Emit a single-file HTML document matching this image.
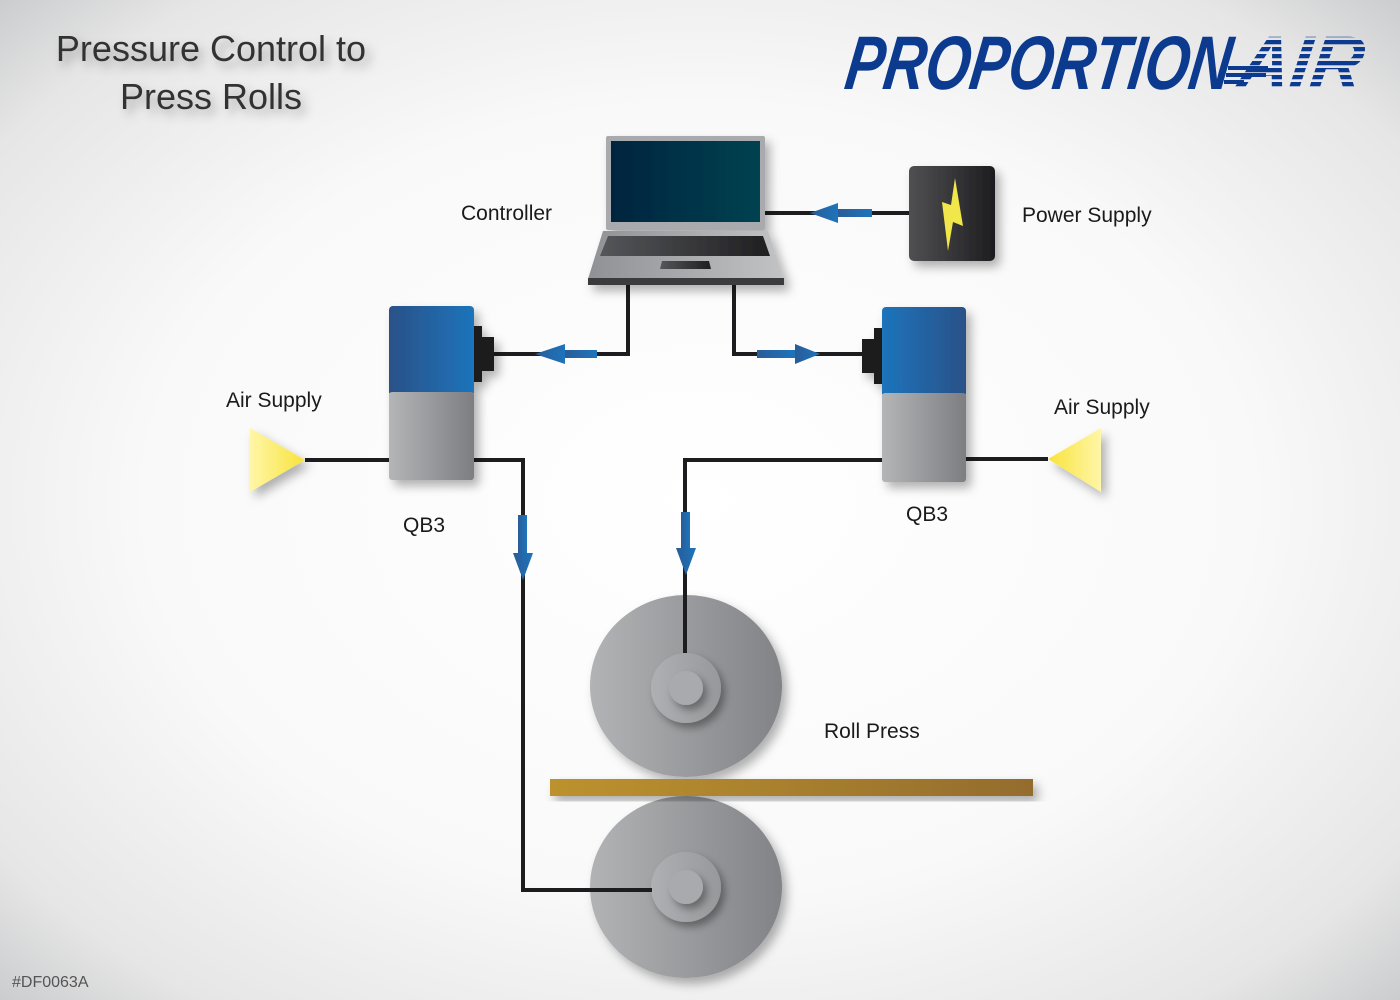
<!DOCTYPE html>
<html><head><meta charset="utf-8"><style>
html,body{margin:0;padding:0;width:1400px;height:1000px;overflow:hidden}
svg{display:block}
text{font-family:"Liberation Sans",sans-serif}
</style></head><body>
<svg width="1400" height="1000" viewBox="0 0 1400 1000" xmlns="http://www.w3.org/2000/svg">
<defs>
<radialGradient id="bg" cx="0.5" cy="0.5" r="0.72">
<stop offset="0" stop-color="#ffffff"/><stop offset="0.55" stop-color="#f9f9f9"/><stop offset="0.85" stop-color="#e6e6e6"/><stop offset="1" stop-color="#c8c9cb"/></radialGradient>
<linearGradient id="scr" x1="0" x2="1"><stop offset="0" stop-color="#01243f"/><stop offset="1" stop-color="#044250"/></linearGradient>
<linearGradient id="base" x1="0" x2="1"><stop offset="0" stop-color="#8f9194"/><stop offset="1" stop-color="#c2c3c5"/></linearGradient>
<linearGradient id="kb" x1="0" x2="1"><stop offset="0" stop-color="#55565a"/><stop offset="1" stop-color="#1f1f21"/></linearGradient>
<linearGradient id="ps" x1="0" x2="1"><stop offset="0" stop-color="#505053"/><stop offset="1" stop-color="#1d1d1f"/></linearGradient>
<linearGradient id="blueL" x1="0" x2="1"><stop offset="0" stop-color="#2a5188"/><stop offset="1" stop-color="#1d74bb"/></linearGradient>
<linearGradient id="blueR" x1="0" x2="1"><stop offset="0" stop-color="#1d74bb"/><stop offset="1" stop-color="#2a5188"/></linearGradient>
<linearGradient id="gray" x1="0" x2="1"><stop offset="0" stop-color="#b4b5b7"/><stop offset="1" stop-color="#7c7e82"/></linearGradient>
<linearGradient id="roll" x1="0" x2="1"><stop offset="0" stop-color="#b2b3b5"/><stop offset="1" stop-color="#828387"/></linearGradient>
<linearGradient id="hub" x1="0" x2="1"><stop offset="0" stop-color="#afb0b3"/><stop offset="1" stop-color="#97989b"/></linearGradient>
<linearGradient id="plank" x1="0" x2="1"><stop offset="0" stop-color="#bc922e"/><stop offset="1" stop-color="#946c2d"/></linearGradient>
<linearGradient id="yelR" x1="0" x2="1"><stop offset="0" stop-color="#fff6a8"/><stop offset="1" stop-color="#f8e33a"/></linearGradient>
<linearGradient id="yelL" x1="0" x2="1"><stop offset="0" stop-color="#f8e33a"/><stop offset="1" stop-color="#fff6a8"/></linearGradient>
<linearGradient id="arr" x1="0" x2="1"><stop offset="0" stop-color="#2a5c98"/><stop offset="1" stop-color="#1d74bb"/></linearGradient>
<pattern id="stripe" width="10" height="7" patternUnits="userSpaceOnUse"><rect width="10" height="4.3" fill="#0b3a8f"/></pattern>
<filter id="sh" x="-20%" y="-20%" width="150%" height="150%"><feDropShadow dx="5" dy="6" stdDeviation="5" flood-color="#000" flood-opacity="0.3"/></filter>
<filter id="hs" x="-40%" y="-40%" width="190%" height="190%"><feDropShadow dx="4" dy="5" stdDeviation="4" flood-color="#000" flood-opacity="0.35"/></filter>
</defs>
<rect width="1400" height="1000" fill="url(#bg)"/>

<text x="211" y="61" font-size="36" text-anchor="middle" fill="#333" filter="url(#sh)">Pressure Control to</text>
<text x="211" y="109" font-size="36" text-anchor="middle" fill="#333" filter="url(#sh)">Press Rolls</text>

<g font-style="italic" font-weight="bold" font-size="76" transform="translate(843,89) skewX(-8)">
<text x="0" y="0" fill="#0b3a8f" textLength="385" lengthAdjust="spacingAndGlyphs">PROPORTION</text>
<text x="392" y="0" fill="url(#stripe)" textLength="125" lengthAdjust="spacingAndGlyphs">AIR</text>
</g>
<g fill="#0b3a8f"><rect x="1228" y="66" width="40" height="4"/><rect x="1226" y="73" width="40" height="4"/><rect x="1224" y="80" width="20" height="4"/></g>

<!-- rolls -->
<g filter="url(#sh)">
<ellipse cx="686" cy="686" rx="96" ry="91" fill="url(#roll)"/>
</g>
<circle cx="686" cy="688" r="35" fill="url(#hub)" filter="url(#hs)"/>
<circle cx="686" cy="688" r="17" fill="#a9aaad" filter="url(#hs)"/>
<g filter="url(#sh)">
<ellipse cx="686" cy="887" rx="96" ry="91" fill="url(#roll)"/>
</g>
<circle cx="686" cy="887" r="35" fill="url(#hub)" filter="url(#hs)"/>
<circle cx="686" cy="887" r="17" fill="#a9aaad" filter="url(#hs)"/>
<rect x="550" y="779" width="483" height="17" fill="url(#plank)" filter="url(#sh)"/>

<!-- lines -->
<g stroke="#1d1d1f" stroke-width="4" fill="none">
<line x1="765" y1="213" x2="909" y2="213"/>
<polyline points="628,285 628,354 494,354"/>
<polyline points="734,285 734,354 862,354"/>
<line x1="305" y1="460" x2="390" y2="460"/>
<polyline points="474,460 523,460 523,890 652,890"/>
<polyline points="882,460 685,460 685,653"/>
<line x1="966" y1="459" x2="1048" y2="459"/>
</g>

<!-- arrows -->
<g fill="url(#arr)">
<rect x="838" y="209" width="34" height="8"/><polygon points="810,213 838,203 838,223"/>
<rect x="565" y="350" width="32" height="8"/><polygon points="535,354 565,344 565,364"/>
<rect x="757" y="350" width="38" height="8"/><polygon points="820,354 795,344 795,364"/>
<rect x="518" y="515" width="9" height="40"/><polygon points="513,553 533,553 523,580"/>
<rect x="681" y="512" width="9" height="38"/><polygon points="676,548 696,548 686,575"/>
</g>

<!-- laptop -->
<g filter="url(#sh)">
<rect x="606" y="136" width="159" height="94" rx="2" fill="#a8aaad"/>
<rect x="611" y="141" width="149" height="81" fill="url(#scr)"/>
<polygon points="603,231 768,231 784,279 588,279" fill="url(#base)"/>
<rect x="588" y="278" width="196" height="7" fill="#3a3a3c"/>
<polygon points="608,236 763,236 770,256 600,256" fill="url(#kb)"/>
<polygon points="662,261 709,261 711,269 660,269" fill="url(#kb)"/>
</g>
<!-- power -->
<rect x="909" y="166" width="86" height="95" rx="5" fill="url(#ps)" filter="url(#sh)"/>
<polygon points="955,178 951,205 942,202 948,251 953,222 963,226" fill="#f1e64a"/>

<!-- QB3 left -->
<g filter="url(#sh)">
<rect x="389" y="306" width="85" height="90" rx="4" fill="url(#blueL)"/>
<rect x="389" y="392" width="85" height="88" rx="3" fill="url(#gray)"/>
<rect x="474" y="326" width="8" height="56" fill="#1d1d1f"/>
<rect x="480" y="337" width="14" height="34" fill="#1d1d1f"/>
</g>
<!-- QB3 right -->
<g filter="url(#sh)">
<rect x="882" y="307" width="84" height="90" rx="4" fill="url(#blueR)"/>
<rect x="882" y="393" width="84" height="89" rx="3" fill="url(#gray)"/>
<rect x="874" y="328" width="8" height="56" fill="#1d1d1f"/>
<rect x="862" y="339" width="14" height="34" fill="#1d1d1f"/>
</g>

<polygon points="250,428 305,460 250,492" fill="url(#yelR)" filter="url(#sh)"/>
<polygon points="1101,428 1048,459 1101,492" fill="url(#yelL)" filter="url(#sh)"/>

<g font-size="21" fill="#1a1a1a">
<text x="461" y="220">Controller</text>
<text x="1022" y="222">Power Supply</text>
<text x="226" y="407">Air Supply</text>
<text x="1054" y="414">Air Supply</text>
<text x="403" y="532">QB3</text>
<text x="906" y="521">QB3</text>
<text x="824" y="738">Roll Press</text>
</g>
<text x="12" y="987" font-size="16" fill="#555">#DF0063A</text>
</svg>
</body></html>
